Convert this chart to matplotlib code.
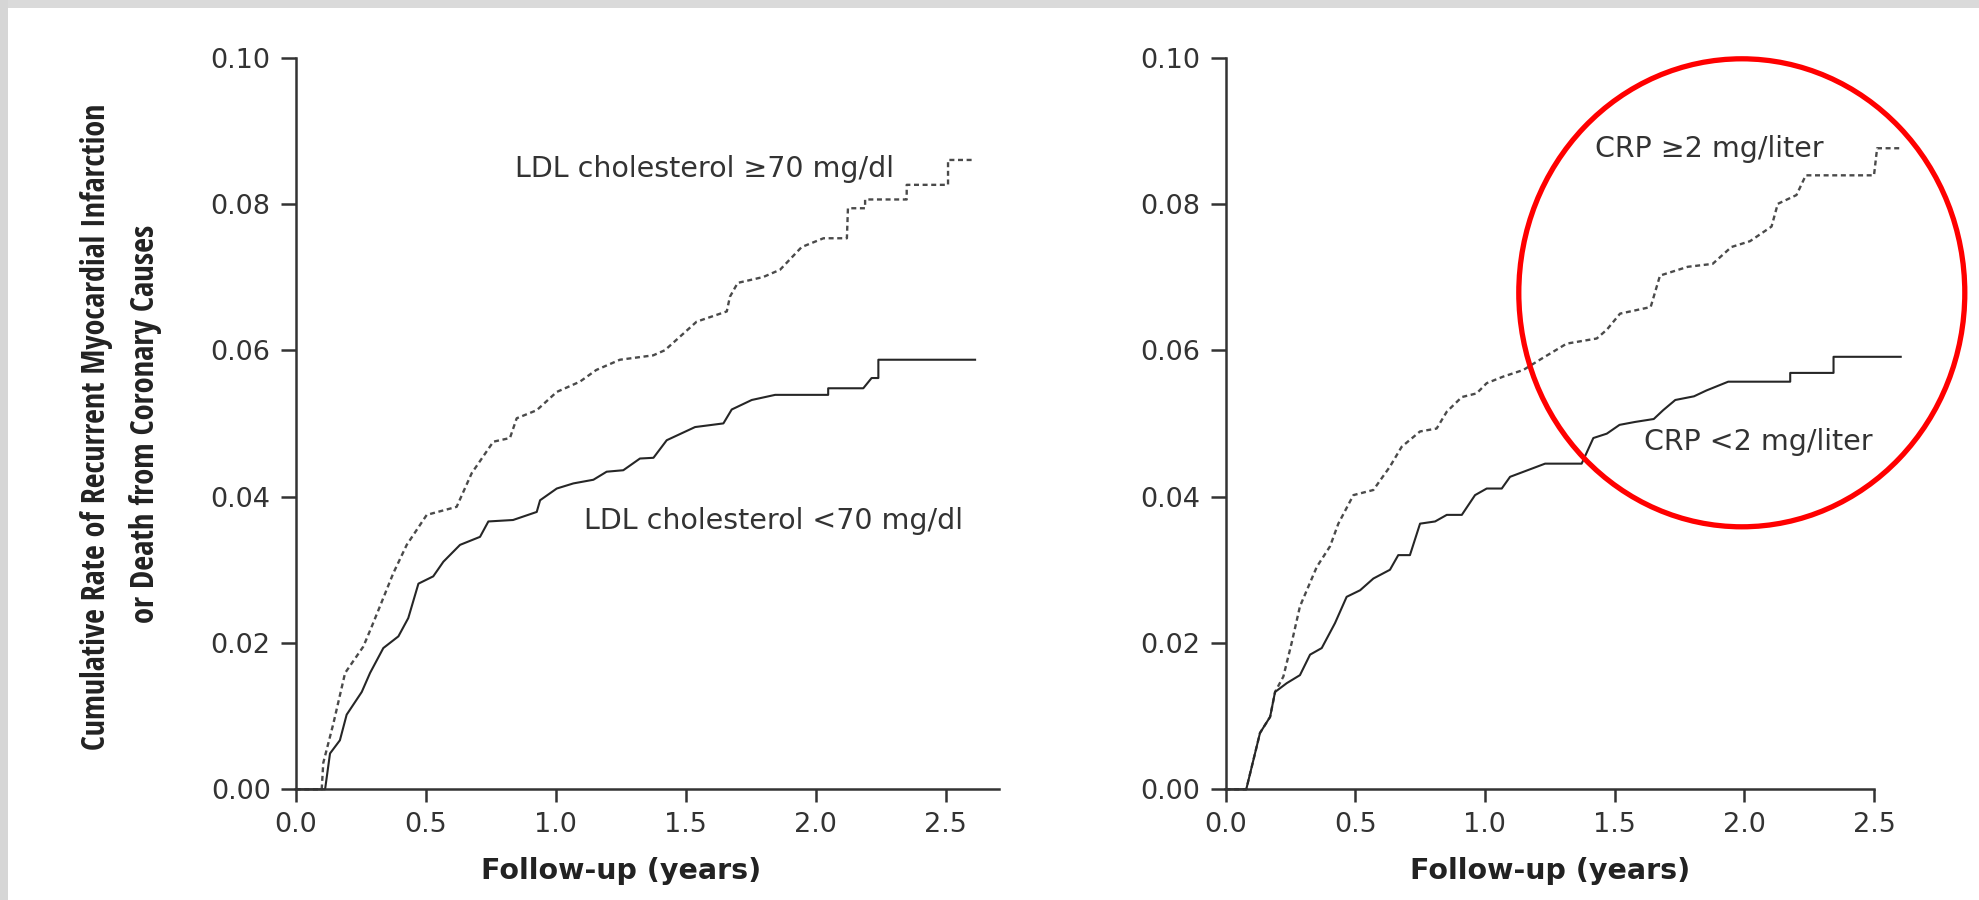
import matplotlib
matplotlib.use("Agg")
import matplotlib.pyplot as plt
from matplotlib.patches import Ellipse, Rectangle
from matplotlib import font_manager as fm
from matplotlib.textpath import TextToPath

plt.rcParams['lines.scale_dashes'] = False

# ---------------- data ----------------
ldl_high_x = [0.0, 0.10, 0.106, 0.145, 0.19, 0.26, 0.292, 0.324, 0.375, 0.427, 0.504, 0.619, 0.677,
              0.76, 0.824, 0.85, 0.927, 1.004, 1.093, 1.156, 1.247, 1.375, 1.42, 1.542, 1.658, 1.67,
              1.70, 1.798, 1.863, 1.946, 2.03, 2.12, 2.124, 2.19, 2.19, 2.35, 2.35, 2.509, 2.509, 2.613]
ldl_high_y = [0.0, 0.0, 0.0036, 0.009, 0.0159, 0.0195, 0.0222, 0.025, 0.0295, 0.0334, 0.0375, 0.0386, 0.0432,
              0.0475, 0.048, 0.0507, 0.0518, 0.0543, 0.0557, 0.0573, 0.0587, 0.0593, 0.060, 0.0639, 0.0653, 0.0673,
              0.0692, 0.070, 0.071, 0.0741, 0.0753, 0.0753, 0.0794, 0.0794, 0.0806, 0.0806, 0.0826, 0.0826, 0.086, 0.086]

ldl_low_x = [0.0, 0.113, 0.132, 0.17, 0.196, 0.254, 0.286, 0.337, 0.395, 0.433, 0.472, 0.529, 0.568,
             0.632, 0.709, 0.741, 0.836, 0.927, 0.94, 1.004, 1.068, 1.145, 1.196, 1.26, 1.324, 1.376,
             1.427, 1.536, 1.645, 1.677, 1.754, 1.844, 2.048, 2.048, 2.183, 2.215, 2.241, 2.241, 2.613]
ldl_low_y = [0.0, 0.0, 0.0049, 0.0067, 0.0102, 0.0133, 0.0159, 0.0193, 0.0209, 0.0234, 0.0281, 0.0291, 0.0311,
             0.0334, 0.0345, 0.0366, 0.0368, 0.0379, 0.0395, 0.0411, 0.0418, 0.0423, 0.0434, 0.0436, 0.0452, 0.0453,
             0.0477, 0.0495, 0.050, 0.0519, 0.0532, 0.0539, 0.0539, 0.0548, 0.0548, 0.0562, 0.0562, 0.0587, 0.0587]

crp_high_x = [0.0, 0.08, 0.133, 0.172, 0.191, 0.223, 0.255, 0.287, 0.352, 0.403, 0.435, 0.493, 0.57,
              0.634, 0.679, 0.75, 0.814, 0.853, 0.911, 0.968, 1.007, 1.071, 1.148, 1.212, 1.315, 1.431,
              1.47, 1.521, 1.639, 1.675, 1.782, 1.878, 1.95, 2.022, 2.105, 2.129, 2.201, 2.237, 2.50,
              2.512, 2.603]
crp_high_y = [0.0, 0.0, 0.0077, 0.0099, 0.0133, 0.0154, 0.020, 0.025, 0.0304, 0.0332, 0.0363, 0.0402, 0.0409,
              0.0441, 0.0468, 0.0489, 0.0493, 0.0516, 0.0536, 0.0541, 0.0555, 0.0564, 0.0573, 0.0587, 0.0609, 0.0616,
              0.0628, 0.065, 0.0659, 0.0702, 0.0714, 0.0718, 0.0741, 0.0749, 0.0769, 0.080, 0.0812, 0.0839, 0.0839,
              0.0876, 0.0876]

crp_low_x = [0.0, 0.08, 0.133, 0.172, 0.191, 0.236, 0.287, 0.326, 0.371, 0.422, 0.467, 0.519, 0.57,
             0.634, 0.666, 0.711, 0.75, 0.808, 0.853, 0.911, 0.962, 1.007, 1.065, 1.097, 1.187, 1.232,
             1.373, 1.418, 1.47, 1.519, 1.579, 1.651, 1.687, 1.734, 1.806, 1.854, 1.938, 2.177, 2.177,
             2.344, 2.344, 2.603]
crp_low_y = [0.0, 0.0, 0.0077, 0.0099, 0.0133, 0.0145, 0.0156, 0.0184, 0.0193, 0.0227, 0.0263, 0.0272, 0.0288,
             0.030, 0.032, 0.032, 0.0363, 0.0366, 0.0375, 0.0375, 0.0402, 0.0411, 0.0411, 0.0427, 0.0439, 0.0445,
             0.0445, 0.048, 0.0486, 0.0498, 0.0502, 0.0506, 0.0518, 0.0532, 0.0537, 0.0545, 0.0557, 0.0557, 0.0569,
             0.0569, 0.0591, 0.0591]

x_ticks = [0.0, 0.5, 1.0, 1.5, 2.0, 2.5]
y_ticks = [0.00, 0.02, 0.04, 0.06, 0.08, 0.10]
x_label = "Follow-up (years)"
y_label_lines = ["Cumulative Rate of Recurrent Myocardial Infarction",
                 "or Death from Coronary Causes"]
labels_left = ["LDL cholesterol \u226570 mg/dl", "LDL cholesterol <70 mg/dl"]
labels_right = ["CRP \u22652 mg/liter", "CRP <2 mg/liter"]

# ---------------- figure ----------------
W, H = 1979, 900
fig = plt.figure(figsize=(W / 100, H / 100), dpi=100)
fig.patch.set_facecolor("white")

# gray frame strips (top and left)
fig.add_artist(Rectangle((0, 1 - 8 / H), 1, 8 / H, transform=fig.transFigure,
                         facecolor="#dadada", edgecolor="none", zorder=0))
fig.add_artist(Rectangle((0, 0), 8 / W, 1, transform=fig.transFigure,
                         facecolor="#d6d6d6", edgecolor="none", zorder=0))

axis_col = "#333333"
tick_font = dict(family=["DejaVu Sans"], size=19.5)
ann_font = dict(family=["DejaVu Sans"], size=20.5)

def style_ax(ax, xmax):
    ax.set_xlim(0, xmax)
    ax.set_ylim(0, 0.10)
    for s in ("top", "right"):
        ax.spines[s].set_visible(False)
    for s in ("left", "bottom"):
        ax.spines[s].set_color(axis_col)
        ax.spines[s].set_linewidth(1.8)
    ax.set_xticks(x_ticks)
    ax.set_yticks(y_ticks)
    ax.set_xticklabels([f"{v:.1f}" for v in x_ticks], **tick_font, color=axis_col)
    ax.set_yticklabels([f"{v:.2f}" for v in y_ticks], **tick_font, color=axis_col)
    ax.tick_params(axis="both", direction="out", width=1.8, color=axis_col)
    ax.tick_params(axis="x", pad=7, length=9)
    ax.tick_params(axis="y", pad=7, length=11)
    ax.set_facecolor("none")

bottom = 1 - 789.3 / H
height = (789.3 - 57.5) / H

axL = fig.add_axes([295.7 / W, bottom, (999 - 295.7) / W, height])
axR = fig.add_axes([1225.5 / W, bottom, (1874 - 1225.5) / W, height])
style_ax(axL, 2.705)
style_ax(axR, 2.5)

dash = (0, (3.6, 2.6))
for ax, (hx, hy), (lx, ly) in [(axL, (ldl_high_x, ldl_high_y), (ldl_low_x, ldl_low_y)),
                               (axR, (crp_high_x, crp_high_y), (crp_low_x, crp_low_y))]:
    ax.plot(hx, hy, color="#4a4a4a", lw=1.7, linestyle=dash, clip_on=False)
    ax.plot(lx, ly, color="#262626", lw=1.5, clip_on=False)
    ax.set_xlabel(x_label, family=["DejaVu Sans"], fontsize=20.5, fontweight="bold",
                  color="#222222", va="center")

axL.xaxis.set_label_coords(2.5 / 2 / 2.705, -0.112)
axR.xaxis.set_label_coords(0.5, -0.112)

axL.text(0.843, 0.0848, labels_left[0], va="center", ha="left", color="#333333", **ann_font)
axL.text(1.109, 0.0367, labels_left[1], va="center", ha="left", color="#333333", **ann_font)
axR.text(1.424, 0.0875, labels_right[0], va="center", ha="left", color="#333333", **ann_font)
axR.text(1.613, 0.0475, labels_right[1], va="center", ha="left", color="#333333", **ann_font)

# ---- y-axis title: pick the narrowest installed bold sans face from plain sans families ----
def _is_bold(f):
    w = f.weight
    if isinstance(w, (int, float)):
        return w >= 600
    return str(w).lower() in ("bold", "semibold", "demibold", "heavy", "extra bold", "black", "demi")

allowed = ("dejavu sans", "liberation sans", "noto sans", "roboto", "open sans", "lato", "inter")
bad = ("mono", "cjk", "serif", "symbol", "math", "emoji", "italic", "oblique", "slab", "flex")
ttp = TextToPath()
sample = "Cumulative Rate of Recurrent Myocardial Infarction"
best, best_ratio = None, None
for f in fm.fontManager.ttflist:
    nm = f.name.lower()
    key = (f.name + " " + f.fname).lower()
    if not nm.startswith(allowed) or any(b in key for b in bad) or f.style != "normal" or not _is_bold(f):
        continue
    try:
        p = fm.FontProperties(fname=f.fname, size=100)
        w, _, _ = ttp.get_text_width_height_descent(sample, p, ismath=False)
        _, hh, _ = ttp.get_text_width_height_descent("I", p, ismath=False)
        ratio = w / hh
    except Exception:
        continue
    if best_ratio is None or ratio < best_ratio:
        best, best_ratio = f.fname, ratio

if best is not None:
    yprop = fm.FontProperties(fname=best, size=21)
else:
    yprop = fm.FontProperties(family="DejaVu Sans", weight="bold", size=21)

t1 = fig.text(97 / W, 1 - 427 / H, y_label_lines[0], rotation=90, ha="center", va="center",
              fontproperties=yprop, color="#222222")
t2 = fig.text(146 / W, 1 - 424 / H, y_label_lines[1], rotation=90, ha="center", va="center",
              fontproperties=yprop.copy(), color="#222222")
r = fig.canvas.get_renderer()
for t, target in ((t1, 647.0), (t2, 399.0)):
    h = t.get_window_extent(r).height
    t.set_fontsize(21 * target / h)

# red highlight ellipse
fig.add_artist(Ellipse((1741.8 / W, 1 - 292.8 / H), 446 / W, 468 / H, transform=fig.transFigure,
                       fill=False, edgecolor="#ff0000", lw=3.8, zorder=10))

fig.savefig("out.png", dpi=100, facecolor="white")
